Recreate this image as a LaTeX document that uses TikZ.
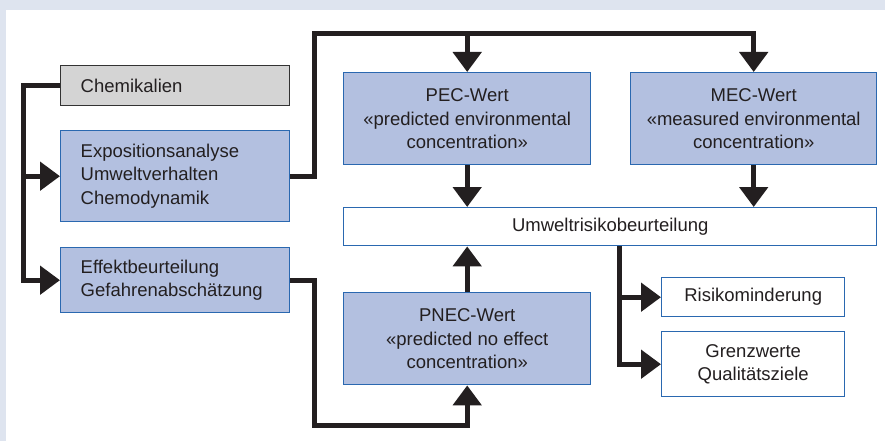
\documentclass[tikz,border=0pt]{standalone}
\usepackage{fontspec}
\setmainfont{Liberation Sans}
\usetikzlibrary{arrows.meta}
\definecolor{bgband}{HTML}{DEE4EF}
\definecolor{boxblue}{HTML}{B3C0E0}
\definecolor{edgeblue}{HTML}{2A68B0}
\definecolor{boxgrey}{HTML}{D4D4D4}
\definecolor{txt}{HTML}{231F20}
\tikzset{
  base/.style={draw, line width=1.4pt, inner sep=0pt, text=txt,
    font=\fontsize{18.5}{23.8}\selectfont},
  leftbox/.style={base, fill=boxblue, draw=edgeblue, inner xsep=20pt, align=left, text width=189pt, anchor=north west},
  greybox/.style={base, fill=boxgrey, draw=black!80, inner xsep=20pt, align=left, text width=189pt, anchor=north west},
  midbox/.style={base, fill=boxblue, draw=edgeblue, align=center, anchor=north west},
  whitebox/.style={base, fill=white, draw=edgeblue, align=center, anchor=north west},
  conn/.style={line width=5pt, draw=txt, line join=miter},
  arr/.style={conn, -{Triangle[width=28pt,length=20pt]}},
}
\begin{document}
\begin{tikzpicture}[x=1pt,y=-1pt]
\useasboundingbox (0,0) rectangle (885,441);
\fill[bgband] (0,0) rectangle (885,441);
\fill[white] (6,10) rectangle (885,441);

\node[greybox, minimum height=40pt] (chem) at (60,65) {Chemikalien};
\node[leftbox, minimum height=91pt] (expo) at (60,130) {Expositionsanalyse\\Umweltverhalten\\Chemodynamik};
\node[leftbox, minimum height=65pt] (eff) at (60,247) {Effektbeurteilung\\Gefahrenabschätzung};

\node[midbox, minimum width=247pt, minimum height=92pt] (pec) at (343,72) {PEC-Wert\\«predicted environmental\\concentration»};
\node[midbox, minimum width=246pt, minimum height=92pt] (mec) at (630,72) {MEC-Wert\\«measured environmental\\concentration»};
\node[whitebox, minimum width=533pt, minimum height=38pt] (umw) at (343,207) {Umweltrisikobeurteilung};
\node[midbox, minimum width=247pt, minimum height=92pt] (pnec) at (343,292) {PNEC-Wert\\«predicted no effect\\concentration»};
\node[whitebox, minimum width=183pt, minimum height=39pt] (risk) at (661,277) {Risikominderung};
\node[whitebox, minimum width=183pt, minimum height=65pt] (grenz) at (661,331) {Grenzwerte\\Qualitätsziele};

% coordinates
\coordinate (lx) at (23,0);
\coordinate (rx) at (314,0);
\coordinate (top) at (0,34);
\coordinate (bot) at (0,425);
\coordinate (ux) at (619,0);

% left feed
\draw[conn] (chem.west) -| (lx |- expo.west);
\draw[arr] (lx |- chem.west) |- (eff.west);
\draw[arr] (lx |- expo.west) -- (expo.west);

% exposure to PEC / MEC
\draw[arr] (expo.east) -| (rx |- top) -| (mec.north);
\draw[arr] (pec.north |- top) -- (pec.north);

% effect to PNEC
\draw[arr] (eff.east) -| (rx |- bot) -| (pnec.south);

% to Umwelt
\draw[arr] (pec.south) -- (pec.south |- umw.north);
\draw[arr] (mec.south) -- (mec.south |- umw.north);
\draw[arr] (pnec.north) -- (pnec.north |- umw.south);

% Umwelt outputs
\draw[arr] (ux |- umw.south) |- (grenz.west);
\draw[arr] (ux |- risk.west) -- (risk.west);
\end{tikzpicture}
\end{document}
